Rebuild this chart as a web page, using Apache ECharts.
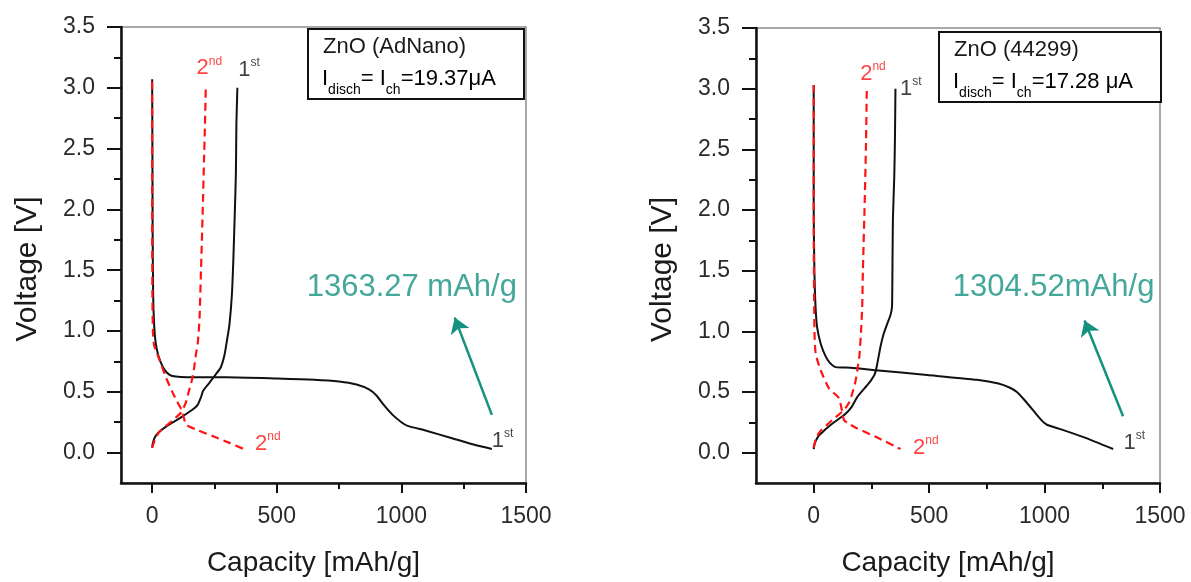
<!DOCTYPE html>
<html>
<head>
<meta charset="utf-8">
<title>ZnO charge / discharge</title>
<script src="https://cdn.jsdelivr.net/npm/echarts@6.0.0/dist/echarts.min.js"></script>
<style>
  html, body { margin: 0; padding: 0; background: #fff; }
  #chart { width: 1191px; height: 582px; }
</style>
</head>
<body>
<div id="chart"></div>
<script>
// ZnO (AdNano) - left panel, [capacity mAh/g, voltage V]
const adnanoDis1 = [[0, 3.07], [1, 2.5], [2, 1.8], [4, 1.3], [8, 1.05], [13, 0.92], [22, 0.82], [35, 0.74], [50, 0.68], [70, 0.64], [95, 0.625], [140, 0.62], [300, 0.62], [500, 0.61], [650, 0.6], [750, 0.585], [820, 0.56], [870, 0.52], [900, 0.47], [930, 0.39], [965, 0.31], [1000, 0.25], [1025, 0.22], [1100, 0.18], [1200, 0.12], [1300, 0.06], [1363, 0.03]]
const adnanoCh1 = [[0, 0.04], [3, 0.08], [12, 0.13], [28, 0.17], [60, 0.22], [116, 0.29], [160, 0.35], [182, 0.39], [195, 0.45], [205, 0.51], [228, 0.57], [250, 0.63], [275, 0.7], [290, 0.8], [300, 0.92], [310, 1.05], [320, 1.3], [326, 1.6], [332, 2.0], [336, 2.3], [338, 2.7], [342, 3.0]]
const adnanoDis2 = [[0, 3.05], [0, 2.0], [1, 1.3], [3, 1.0], [8, 0.88], [28, 0.77], [55, 0.62], [83, 0.49], [100, 0.42], [116, 0.36], [128, 0.28], [136, 0.23], [176, 0.19], [250, 0.13], [310, 0.08], [367, 0.03]]
const adnanoCh2 = [[0, 0.04], [10, 0.1], [28, 0.17], [68, 0.24], [116, 0.33], [135, 0.41], [148, 0.51], [160, 0.6], [168, 0.69], [175, 0.8], [183, 0.9], [190, 1.1], [196, 1.5], [203, 2.0], [208, 2.4], [212, 2.7], [215, 3.0]]

// ZnO (44299) - right panel
const z44299Dis1 = [[0, 3.03], [0, 2.0], [3, 1.5], [8, 1.2], [15, 1.03], [30, 0.9], [50, 0.8], [70, 0.74], [95, 0.705], [160, 0.7], [268, 0.68], [491, 0.64], [707, 0.6], [800, 0.57], [850, 0.535], [880, 0.5], [910, 0.44], [950, 0.35], [985, 0.27], [1010, 0.23], [1075, 0.19], [1166, 0.13], [1297, 0.03]]
const z44299Ch1 = [[0, 0.03], [5, 0.08], [22, 0.14], [50, 0.19], [81, 0.24], [138, 0.32], [165, 0.38], [189, 0.46], [220, 0.53], [246, 0.59], [265, 0.65], [275, 0.73], [290, 0.88], [303, 0.98], [318, 1.06], [332, 1.13], [339, 1.2], [341, 1.5], [343, 1.92], [349, 2.28], [352, 2.6], [354, 3.0]]
const z44299Dis2 = [[0, 3.03], [0, 1.8], [2, 1.2], [4, 0.95], [9, 0.81], [30, 0.68], [66, 0.53], [109, 0.45], [122, 0.35], [131, 0.27], [150, 0.24], [189, 0.2], [280, 0.12], [376, 0.03]]
const z44299Ch2 = [[0, 0.04], [10, 0.12], [30, 0.18], [81, 0.27], [131, 0.35], [155, 0.42], [167, 0.49], [180, 0.58], [189, 0.68], [198, 0.8], [205, 1.0], [210, 1.2], [213, 1.5], [220, 2.0], [226, 2.5], [230, 3.0]]

// axis ticks
const xMajor = [0, 500, 1000, 1500]
const xMinor = [250, 750, 1250]
const yMajor = [0, 0.5, 1, 1.5, 2, 2.5, 3, 3.5]
const yMinor = [0.25, 0.75, 1.25, 1.75, 2.25, 2.75, 3.25]

// capacities written on the plots
const capacityText = ['1363.27 mAh/g', '1304.52mAh/g']

const FONT = 'Liberation Sans, Arial, sans-serif'
const TEAL = '#14917f'
const RED = '#ff1414'

const chart = echarts.init(document.getElementById('chart'))

const grids = [
  { left: 121, top: 27, width: 405, height: 462, show: true, borderColor: '#8c8c8c', borderWidth: 1.5 },
  { left: 756, top: 28, width: 404, height: 463, show: true, borderColor: '#8c8c8c', borderWidth: 1.5 }
]

function xAxes(gi, min) {
  return [
    {
      gridIndex: gi, type: 'value', min: min, max: 1500,
      name: 'Capacity [mAh/g]', nameLocation: 'middle', nameGap: 66,
      nameTextStyle: { fontFamily: FONT, fontSize: 28, color: '#1a1a1a', padding: [0, 20, 0, 0] },
      axisLine: { onZero: false, lineStyle: { color: '#111', width: 2.5 } },
      axisTick: { customValues: xMajor, length: 10, lineStyle: { color: '#111', width: 2 } },
      axisLabel: { customValues: xMajor, margin: 22, fontFamily: FONT, fontSize: 23, color: '#2a2a2a', formatter: v => String(v) },
      splitLine: { show: false }
    },
    {
      gridIndex: gi, type: 'value', min: min, max: 1500, position: 'bottom',
      axisLine: { show: false, onZero: false },
      axisTick: { customValues: xMinor, length: 6, lineStyle: { color: '#111', width: 2 } },
      axisLabel: { show: false },
      splitLine: { show: false }
    }
  ]
}

function yAxes(gi) {
  return [
    {
      gridIndex: gi, type: 'value', min: -0.25, max: 3.5,
      name: 'Voltage [V]', nameLocation: 'middle', nameGap: 78,
      nameTextStyle: { fontFamily: FONT, fontSize: 30, color: '#1a1a1a', padding: [0, 28, 0, 0] },
      axisLine: { onZero: false, lineStyle: { color: '#111', width: 2.5 } },
      axisTick: { customValues: yMajor, length: 14, lineStyle: { color: '#111', width: 2 } },
      axisLabel: { customValues: yMajor, margin: 26, fontFamily: FONT, fontSize: 23, color: '#2a2a2a', formatter: v => v.toFixed(1) },
      splitLine: { show: false }
    },
    {
      gridIndex: gi, type: 'value', min: -0.25, max: 3.5, position: 'left',
      axisLine: { show: false, onZero: false },
      axisTick: { customValues: yMinor, length: 7, lineStyle: { color: '#111', width: 2 } },
      axisLabel: { show: false },
      splitLine: { show: false }
    }
  ]
}

function curve(axisIdx, data, dashed) {
  return {
    type: 'line', xAxisIndex: axisIdx, yAxisIndex: axisIdx,
    data: data, showSymbol: false, smooth: 0.2, silent: true,
    lineStyle: dashed
      ? { color: RED, width: 2.2, type: [8, 5] }
      : { color: '#111', width: 2 }
  }
}

// "1st" / "2nd" tags
function tag(pos, num, sup, color) {
  return {
    value: pos,
    label: {
      show: true, position: 'right', distance: 0, color: color,
      formatter: '{n|' + num + '}{p|' + sup + '}',
      rich: {
        n: { fontFamily: FONT, fontSize: 22, lineHeight: 26, color: color },
        p: { fontFamily: FONT, fontSize: 12, lineHeight: 12, verticalAlign: 'top', color: color }
      }
    }
  }
}

function notes(axisIdx, tags, text, textPos, arrowFrom, arrowTo) {
  return {
    type: 'scatter', xAxisIndex: axisIdx, yAxisIndex: axisIdx, silent: true,
    symbolSize: 1, itemStyle: { color: 'rgba(0,0,0,0)' },
    data: tags.concat([{
      value: textPos,
      label: { show: true, position: 'right', distance: 0, formatter: text, fontFamily: FONT, fontSize: 31, color: TEAL }
    }]),
    markLine: {
      silent: true, symbol: ['none', 'arrow'], symbolSize: 15,
      label: { show: false },
      lineStyle: { color: TEAL, width: 2.5, type: 'solid' },
      data: [[{ coord: arrowFrom }, { coord: arrowTo }]]
    }
  }
}

const boxRich = {
  m: { fontFamily: FONT, fontSize: 22, lineHeight: 36, color: '#1a1a1a' },
  s: { fontFamily: FONT, fontSize: 14, lineHeight: 14, verticalAlign: 'bottom', color: '#1a1a1a' }
}
function infoBox(x, y, w, h, title, current) {
  return {
    type: 'group', left: x, top: y,
    children: [
      { type: 'rect', shape: { x: 0, y: 0, width: w, height: h }, style: { fill: '#fff', stroke: '#111', lineWidth: 2 } },
      { type: 'text', x: 15, y: 7, style: { text: title, font: '22px ' + FONT, fill: '#1a1a1a' } },
      { type: 'text', x: 14, y: 32, style: { text: '{m|I}{s|disch}{m|= I}{s|ch}{m|' + current + '}', rich: boxRich } }
    ]
  }
}

const option = {
  animation: false,
  backgroundColor: '#fff',
  grid: grids,
  xAxis: xAxes(0, -125).concat(xAxes(1, -250)),
  yAxis: yAxes(0).concat(yAxes(1)),
  graphic: [
    infoBox(307, 28, 216, 70, 'ZnO (AdNano)', '=19.37\u03bcA'),
    infoBox(938, 31, 222, 70, 'ZnO (44299)', '=17.28 \u03bcA')
  ],
  series: [
    curve(0, adnanoDis1, false),
    curve(0, adnanoCh1, false),
    curve(0, adnanoDis2, true),
    curve(0, adnanoCh2, true),
    notes(0, [
      tag([176, 3.16], '2', 'nd', RED),
      tag([343, 3.15], '1', 'st', '#111'),
      tag([411, 0.07], '2', 'nd', RED),
      tag([1361, 0.1], '1', 'st', '#111')
    ], capacityText[0], [618, 1.36], [1363, 0.31], [1214, 1.11]),
    curve(2, z44299Dis1, false),
    curve(2, z44299Ch1, false),
    curve(2, z44299Dis2, true),
    curve(2, z44299Ch2, true),
    notes(2, [
      tag([199, 3.12], '2', 'nd', RED),
      tag([372, 3.0], '1', 'st', '#111'),
      tag([428, 0.04], '2', 'nd', RED),
      tag([1340, 0.08], '1', 'st', '#111')
    ], capacityText[1], [600, 1.36], [1340, 0.3], [1173, 1.09])
  ]
}

chart.setOption(option)
</script>
</body>
</html>
